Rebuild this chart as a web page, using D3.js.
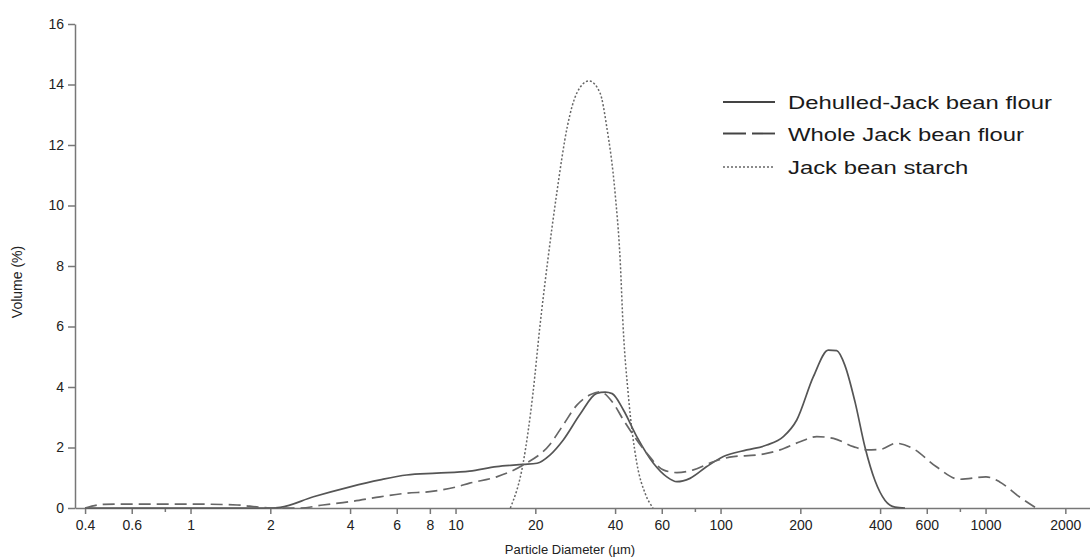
<!DOCTYPE html>
<html>
<head>
<meta charset="utf-8">
<script src="https://cdn.jsdelivr.net/npm/d3@7/dist/d3.min.js"></script>
<style>
  body { margin: 0; background: #fff; }
  svg { display: block; font-family: "Liberation Sans", Arial, sans-serif; }
  .axis path, .axis line { stroke: #777; stroke-width: 1.5; }
  .axis text { fill: #222; font-size: 14px; }
</style>
</head>
<body>
<script>
// particle size (um) and volume (%)
const dehulledX = [0.4, 2.0, 2.18, 2.91, 4.0, 5.19, 6.54, 8.49, 11.3, 14.3, 18.0, 20.3, 22.7, 25.5, 29.5, 34.1, 36.7, 39.0, 43.0, 48.3, 55.8, 62.7, 68.4, 76.7, 88.7, 102.5, 125.6, 149.4, 172.6, 193.9, 224, 255, 274.5, 295, 321.8, 351, 382.8, 417.7, 455.5, 496.6]
const dehulledY = [0, 0, 0.02, 0.37, 0.70, 0.93, 1.09, 1.15, 1.22, 1.37, 1.44, 1.48, 1.75, 2.25, 3.1, 3.79, 3.83, 3.78, 3.24, 2.36, 1.48, 1.03, 0.87, 0.98, 1.37, 1.70, 1.92, 2.08, 2.36, 2.91, 4.34, 5.22, 5.20, 4.7, 3.5, 2.0, 0.9, 0.25, 0.03, 0]

const wholeX = [0.4, 0.47, 0.6, 1.0, 1.5, 1.8, 2.0, 2.6, 3.16, 4.0, 5.19, 6.54, 8.0, 10.1, 11.3, 14.3, 18.0, 22.7, 25.5, 28.7, 32.2, 35.1, 39.4, 43.0, 45.5, 52.7, 60.8, 68.4, 79.0, 93.9, 111.7, 137, 167.7, 199.5, 230.7, 266.6, 317, 356, 402, 459.6, 531, 650.5, 796.3, 1004, 1127, 1341, 1551]
const wholeY = [0, 0.12, 0.13, 0.13, 0.1, 0.03, 0, 0, 0.1, 0.21, 0.37, 0.49, 0.54, 0.70, 0.82, 1.03, 1.42, 2.1, 2.75, 3.4, 3.74, 3.84, 3.46, 2.91, 2.58, 1.81, 1.26, 1.17, 1.26, 1.53, 1.70, 1.75, 1.92, 2.19, 2.36, 2.30, 2.03, 1.92, 1.94, 2.14, 1.97, 1.37, 0.95, 1.03, 0.87, 0.37, 0]

const starchX = [16.1, 18.0, 19.6, 20.8, 22.3, 24.1, 26.4, 28.7, 31.9, 35.1, 37.2, 40.0, 41.8, 42.9, 44.8, 48.3, 51.9, 55.6]
const starchY = [0, 1.49, 3.80, 5.98, 8.2, 10.41, 12.6, 13.72, 14.12, 13.72, 12.6, 10.41, 8.2, 5.98, 3.80, 1.49, 0.49, 0]

const seriesNames = ["Dehulled-Jack bean flour", "Whole Jack bean flour", "Jack bean starch"]
const xTicks = [0.4, 0.6, 1, 2, 4, 6, 8, 10, 20, 40, 60, 100, 200, 400, 600, 1000, 2000]
const xMinorTicks = [0.8, 80, 800]
const yTicks = [0, 2, 4, 6, 8, 10, 12, 14, 16]

const w = 1090
const h = 559

const svg = d3.select("body").append("svg").attr("width", w).attr("height", h)

const x = d3.scaleLog().domain([0.3665, 2478]).range([75, 1090])
const y = d3.scaleLinear().domain([0, 16]).range([508, 24])

// axes
svg.append("g")
  .attr("class", "axis")
  .attr("transform", `translate(0,${y(0)})`)
  .call(d3.axisBottom(x).tickValues(xTicks).tickFormat((d) => String(d)).tickSize(6).tickPadding(6).tickSizeOuter(0))

svg.append("g")
  .attr("class", "axis")
  .attr("transform", `translate(0,${y(0)})`)
  .call(d3.axisBottom(x).tickValues(xMinorTicks).tickFormat("").tickSize(4).tickSizeOuter(0))
  .select(".domain").remove()

svg.append("g")
  .attr("class", "axis")
  .attr("transform", `translate(${x.range()[0]},0)`)
  .call(d3.axisLeft(y).tickValues(yTicks).tickSize(7).tickPadding(4).tickSizeOuter(0))

svg.append("text")
  .attr("x", 570)
  .attr("y", 554)
  .attr("text-anchor", "middle")
  .attr("font-size", "13px")
  .attr("fill", "#222")
  .text("Particle Diameter (µm)")

svg.append("text")
  .attr("transform", "translate(22,282) rotate(-90)")
  .attr("text-anchor", "middle")
  .attr("font-size", "14px")
  .attr("fill", "#222")
  .text("Volume (%)")

// curves
const line = d3.line()
  .x((d) => x(d[0]))
  .y((d) => y(d[1]))
  .curve(d3.curveMonotoneX)

const styles = [
  { color: "#555", width: 1.7, dash: null, legendDash: null },
  { color: "#666", width: 1.7, dash: "12,6", legendDash: "23,6" },
  { color: "#666", width: 1.5, dash: "2,2", legendDash: "2,2" },
]

const series = [
  d3.zip(dehulledX, dehulledY),
  d3.zip(wholeX, wholeY),
  d3.zip(starchX, starchY),
]

svg.selectAll("path.curve")
  .data(series)
  .enter()
  .append("path")
  .attr("class", "curve")
  .attr("d", line)
  .attr("fill", "none")
  .attr("stroke", (d, i) => styles[i].color)
  .attr("stroke-width", (d, i) => styles[i].width)
  .attr("stroke-dasharray", (d, i) => styles[i].dash)

// legend
const legend = svg.append("g").attr("transform", "translate(723,102)")
const rows = legend.selectAll("g")
  .data(seriesNames)
  .enter()
  .append("g")
  .attr("transform", (d, i) => `translate(0,${[0, 31.5, 65][i]})`)

rows.append("line")
  .attr("x1", 0)
  .attr("x2", 52)
  .attr("stroke", (d, i) => (i === 2 ? "#666" : "#444"))
  .attr("stroke-width", (d, i) => (i === 2 ? 1.5 : 1.9))
  .attr("stroke-dasharray", (d, i) => styles[i].legendDash)

rows.append("text")
  .attr("transform", "translate(65,7) scale(1.29,1)")
  .attr("font-size", "18.5px")
  .attr("fill", "#1a1a1a")
  .text((d) => d)
</script>
</body>
</html>
